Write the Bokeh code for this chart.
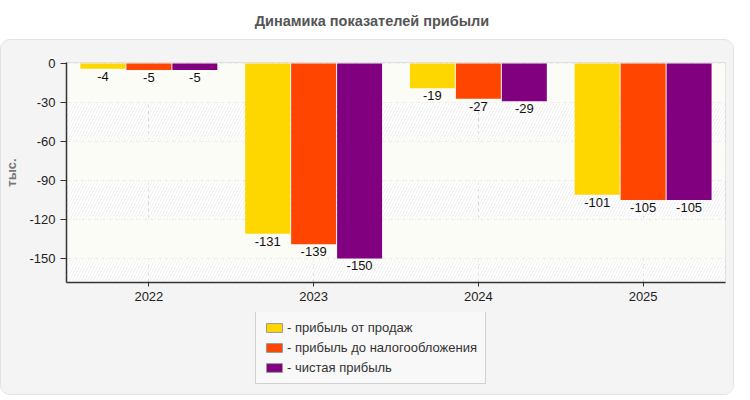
from bokeh.plotting import figure
from bokeh.models import (ColumnDataSource, FactorRange, FixedTicker, Legend, LegendItem,
                          Div, Range1d)
from bokeh.core.properties import value
from bokeh.transform import dodge
from bokeh.layouts import column
from bokeh.embed import file_html
from bokeh.resources import INLINE

years = ["2022", "2023", "2024", "2025"]
sales_profit = [-4, -131, -19, -101]
pretax_profit = [-5, -139, -27, -105]
net_profit = [-5, -150, -29, -105]
series_names = ["- прибыль от продаж", "- прибыль до налогообложения", "- чистая прибыль"]
colors = ["#FFD700", "#FF4500", "#800080"]
y_ticks = [0, -30, -60, -90, -120, -150]

FONT = "Liberation Sans"
PANEL = "#f4f4f4"

src = ColumnDataSource(dict(
    year=years,
    s1=sales_profit, s2=pretax_profit, s3=net_profit,
    l1=[str(v) for v in sales_profit],
    l2=[str(v) for v in pretax_profit],
    l3=[str(v) for v in net_profit],
))

title = Div(text="Динамика показателей прибыли", width=734, height=29,
            styles={"font-family": FONT, "font-size": "14.5px", "font-weight": "bold",
                    "color": "#555", "text-align": "center", "width": "734px",
                    "padding-top": "6px"})

p = figure(x_range=FactorRange(factors=years, range_padding=0),
           y_range=Range1d(-168.5, 0.8),
           width=732, height=272, output_backend="svg", toolbar_location=None,
           min_border_left=62, min_border_right=8, min_border_top=22, min_border_bottom=30)
p.border_fill_color = PANEL
p.background_fill_color = "#ffffff"
p.outline_line_color = "#dddddd"

# hatched background and alternating light bands
p.quad(left=[0], right=[4], bottom=[-200], top=[10], fill_color=None, line_color=None,
       hatch_pattern="/", hatch_color="#f0f0f0", hatch_scale=6, hatch_weight=1)
band_tops = y_ticks[0::2]
p.quad(left=[0] * len(band_tops), right=[4] * len(band_tops),
       top=band_tops, bottom=[t - 30 for t in band_tops],
       fill_color="#fcfcf6", line_color=None)

for i, (col, lab) in enumerate([("s1", "l1"), ("s2", "l2"), ("s3", "l3")]):
    off = (i - 1) * 0.279
    p.vbar(x=dodge("year", off, range=p.x_range), top=col, bottom=0, width=0.273,
           source=src, fill_color=colors[i], line_color=None)
    p.text(x=dodge("year", off, range=p.x_range), y=col, text=lab, source=src,
           text_align="center", text_baseline="top", y_offset=3,
           text_font=value(FONT), text_font_size="13px", text_color="#111111")

p.xgrid.grid_line_color = "#d8d8d8"
p.xgrid.grid_line_dash = "4 3"
p.ygrid.grid_line_color = "#d8d8d8"
p.ygrid.grid_line_dash = "4 3"

p.yaxis.ticker = FixedTicker(ticks=y_ticks)
p.yaxis.major_label_overrides = {t: str(t) for t in y_ticks}
p.yaxis.axis_label = "тыс."
p.yaxis.axis_label_text_font = FONT
p.yaxis.axis_label_text_font_size = "13px"
p.yaxis.axis_label_text_font_style = "bold"
p.yaxis.axis_label_text_color = "#777777"
p.yaxis.axis_label_standoff = 7
p.yaxis.major_tick_out = 6
p.yaxis.major_tick_in = 0
p.yaxis.minor_tick_line_color = None

for ax in (p.xaxis, p.yaxis):
    ax.axis_line_color = "#333333"
    ax.axis_line_width = 1.5
    ax.major_tick_line_color = "#333333"
    ax.major_label_text_font = FONT
    ax.major_label_text_font_size = "13px"
    ax.major_label_text_color = "#222222"
p.xaxis.major_tick_out = 4
p.xaxis.major_tick_in = 0
p.xaxis.major_label_standoff = 5

# legend lives in its own small figure under the chart, inside the same grey panel
lf = figure(width=732, height=82, x_range=Range1d(0, 1), y_range=Range1d(0, 1),
            output_backend="svg", toolbar_location=None,
            min_border=0, min_border_left=0, min_border_right=0,
            min_border_top=0, min_border_bottom=0)
lf.axis.visible = False
lf.grid.visible = False
lf.outline_line_color = None
lf.background_fill_color = PANEL
lf.border_fill_color = PANEL
# swatch renderers sit far outside the visible range; only their legend glyphs show
offscreen = ColumnDataSource(dict(x=[-10], top=[-10], bottom=[-20]))
swatches = [lf.vbar(x="x", top="top", bottom="bottom", width=0.1, source=offscreen,
                    fill_color=c, line_color="#999999") for c in colors]

legend = Legend(items=[LegendItem(label=series_names[i], renderers=[swatches[i]]) for i in range(3)],
                location=(189, 10), orientation="vertical")
legend.background_fill_color = "#f8f8f8"
legend.background_fill_alpha = 1
legend.border_line_color = "#aaaaaa"
legend.label_text_font = FONT
legend.label_text_font_size = "13px"
legend.label_text_color = "#333333"
legend.glyph_width = 20
legend.glyph_height = 11
legend.label_height = 13
legend.spacing = 5
legend.padding = 8
legend.margin = 0
legend.label_standoff = 3
lf.add_layout(legend, "center")

panel = column(p, lf, spacing=0,
               styles={"background-color": PANEL, "border": "1px solid #e2e2e2",
                       "border-radius": "10px", "overflow": "hidden"})
layout = column(title, panel, spacing=0)
open("out.html", "w").write(file_html(layout, INLINE))
